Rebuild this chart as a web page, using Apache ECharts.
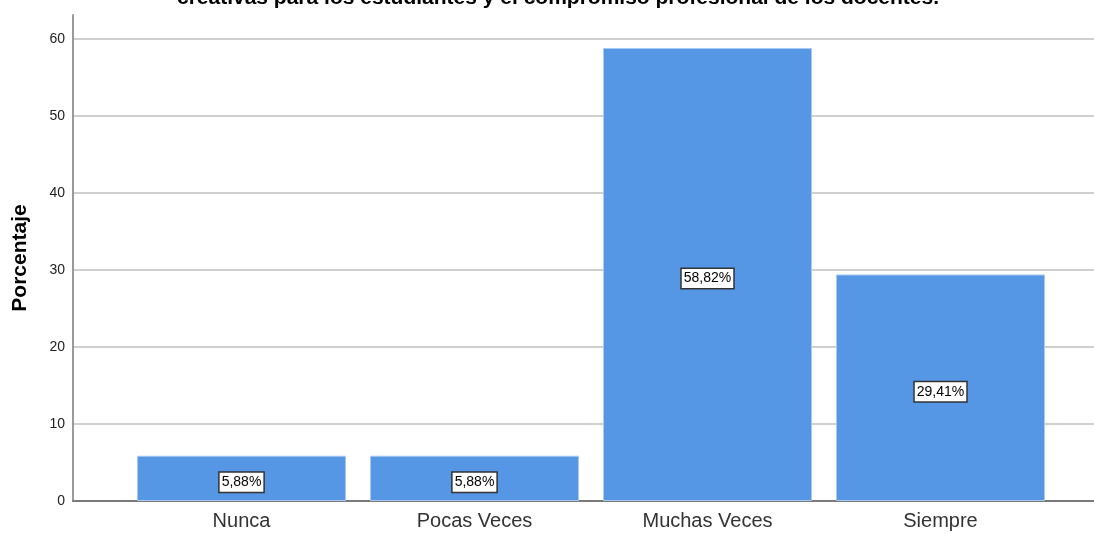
<!DOCTYPE html>
<html>
<head>
<meta charset="utf-8">
<script src="https://cdn.jsdelivr.net/npm/echarts@6/dist/echarts.min.js"></script>
<style>
html,body{margin:0;padding:0;background:#fff;}
#chart{width:1094px;height:534px;}
</style>
</head>
<body>
<div id="chart"></div>
<script>
var titleText = 'creativas para los estudiantes y el compromiso profesional de los docentes.';
var categories = ['Nunca', 'Pocas Veces', 'Muchas Veces', 'Siempre'];
var percentages = [5.88, 5.88, 58.82, 29.41];
var percentLabels = ['5,88%', '5,88%', '58,82%', '29,41%'];
var yTicks = [0, 10, 20, 30, 40, 50, 60];
var yAxisName = 'Porcentaje';

var chart = echarts.init(document.getElementById('chart'));
var font = 'Liberation Sans, Arial, sans-serif';
var yMax = 63.1;
var gridColors = yTicks.map(function () { return '#cfcfcf'; }).concat(['rgba(0,0,0,0)']);

chart.setOption({
  animation: false,
  backgroundColor: '#ffffff',
  title: {
    text: titleText,
    left: 553,
    textAlign: 'center',
    top: -17,
    textStyle: {fontFamily: font, fontSize: 21, fontWeight: 'bold', color: '#000'}
  },
  grid: [
    {left: 73, right: 0, top: 15, bottom: 33},
    {left: 125, right: 37, top: 15, bottom: 33}
  ],
  xAxis: [
    {
      gridIndex: 0, type: 'category', data: [''],
      axisLine: {show: true, lineStyle: {color: '#7a7a7a', width: 2}},
      axisTick: {show: false}, axisLabel: {show: false}
    },
    {
      gridIndex: 1, type: 'category', data: categories,
      axisLine: {show: false}, axisTick: {show: false},
      axisLabel: {fontFamily: font, fontSize: 20, color: '#333', margin: 10}
    }
  ],
  yAxis: [
    {
      gridIndex: 0, type: 'value', min: 0, max: yMax, interval: 10,
      name: yAxisName, nameLocation: 'middle', nameGap: 42,
      nameTextStyle: {fontFamily: font, fontSize: 21, fontWeight: 'bold', color: '#000'},
      axisLine: {show: true, lineStyle: {color: '#9a9a9a', width: 2}},
      axisTick: {show: false},
      axisLabel: {
        fontFamily: font, fontSize: 14, color: '#222', margin: 8, padding: [3, 0, 0, 0],
        formatter: function (v) { return yTicks.indexOf(v) >= 0 ? String(v) : ''; }
      },
      splitLine: {show: true, lineStyle: {color: gridColors, width: 2}}
    },
    {
      gridIndex: 1, type: 'value', min: 0, max: yMax, interval: 10,
      axisLine: {show: false}, axisTick: {show: false}, axisLabel: {show: false},
      splitLine: {show: false}
    }
  ],
  series: [{
    type: 'bar',
    xAxisIndex: 1, yAxisIndex: 1,
    data: percentages,
    barWidth: 209,
    itemStyle: {color: '#5596e5', borderColor: '#a9c9f2', borderWidth: 1},
    label: {
      show: true, position: 'inside', offset: [0, 4],
      formatter: function (p) { return percentLabels[p.dataIndex]; },
      fontFamily: font, fontSize: 14, color: '#000',
      backgroundColor: '#fff', borderColor: '#333', borderWidth: 1.5,
      padding: [3, 2, 2, 2]
    }
  }]
});
</script>
</body>
</html>
